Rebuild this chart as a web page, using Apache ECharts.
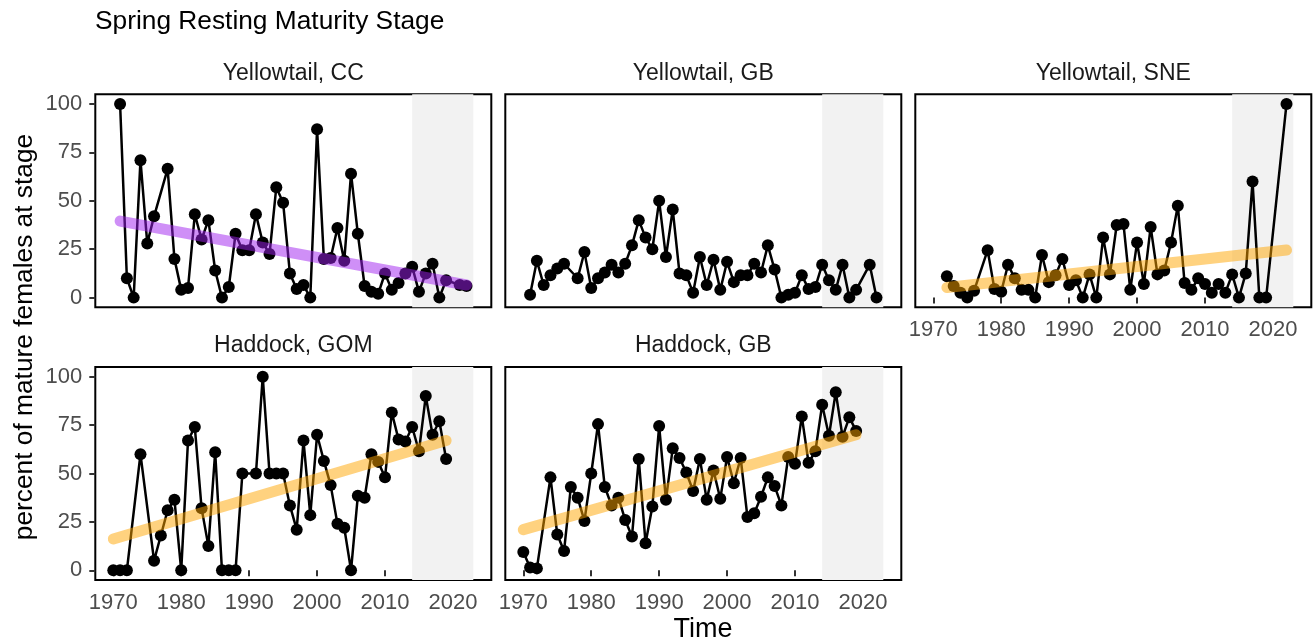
<!DOCTYPE html>
<html>
<head>
<meta charset="utf-8">
<script src="https://cdn.jsdelivr.net/npm/echarts@6/dist/echarts.min.js"></script>
<style>
  html, body { margin: 0; padding: 0; background: #fff; }
  #chart { width: 1313px; height: 643px; }
</style>
</head>
<body>
<div id="chart"></div>
<script>
// ---- data ----
const xTicks = [1970, 1980, 1990, 2000, 2010, 2020];
const yTicks = [0, 25, 50, 75, 100];
const shadeYears = [2014, 2023];

const ccYears = [1971, 1972, 1973, 1974, 1975, 1976, 1978, 1979, 1980, 1981, 1982, 1983, 1984, 1985, 1986, 1987, 1988, 1989, 1990, 1991, 1992, 1993, 1994, 1995, 1996, 1997, 1998, 1999, 2000, 2001, 2002, 2003, 2004, 2005, 2006, 2007, 2008, 2009, 2010, 2011, 2012, 2013, 2014, 2015, 2016, 2017, 2018, 2019, 2021, 2022];
const ccValues = [100, 10, 0, 71, 28, 42, 66.5, 20, 4, 5, 43, 30, 40, 14, 0, 5.5, 33, 24.5, 24.5, 43, 28.5, 22.5, 57, 49, 12.5, 4.5, 6.5, 0, 87, 20, 20.5, 36, 19, 64, 33, 6, 3, 2, 12.5, 4, 7.5, 12.5, 16, 3, 12.5, 17.5, 0, 9, 6.5, 6];
const ccTrend = [[1971, 39.5], [2022, 6.5]];

const gbYears = [1971, 1972, 1973, 1974, 1975, 1976, 1978, 1979, 1980, 1981, 1982, 1983, 1984, 1985, 1986, 1987, 1988, 1989, 1990, 1991, 1992, 1993, 1994, 1995, 1996, 1997, 1998, 1999, 2000, 2001, 2002, 2003, 2004, 2005, 2006, 2007, 2008, 2009, 2010, 2011, 2012, 2013, 2014, 2015, 2016, 2017, 2018, 2019, 2021, 2022];
const gbValues = [1.5, 19, 6.5, 11.5, 15, 17.5, 10, 23.5, 5, 10, 13, 17, 13, 17.5, 27, 40, 31, 25, 50, 21, 45.5, 12.5, 11.5, 2.5, 21, 6.5, 19.5, 4, 18.5, 8, 11.5, 11.5, 17.5, 13, 27, 14.5, 0, 1.5, 2.5, 11.5, 4.5, 5.5, 17, 9, 4, 17, 0, 4, 17, 0];

const sneYears = [1972, 1973, 1974, 1975, 1976, 1978, 1979, 1980, 1981, 1982, 1983, 1984, 1985, 1986, 1987, 1988, 1989, 1990, 1991, 1992, 1993, 1994, 1995, 1996, 1997, 1998, 1999, 2000, 2001, 2002, 2003, 2004, 2005, 2006, 2007, 2008, 2009, 2010, 2011, 2012, 2013, 2014, 2015, 2016, 2017, 2018, 2019, 2022];
const sneValues = [11, 6, 2.5, 0, 3.5, 24.5, 4.5, 3, 17, 10, 4, 4, 0, 22, 8, 11.5, 20, 6.5, 9, 0, 12, 0, 31, 12, 37.5, 38, 4, 28.5, 7, 36.5, 12, 14, 28.5, 47.5, 7.5, 4, 10, 7, 2.5, 7, 2.5, 12, 0, 12.5, 60, 0, 0, 100];
const sneTrend = [[1972, 5.2], [2022, 24.6]];

const gomYears = [1970, 1971, 1972, 1974, 1976, 1977, 1978, 1979, 1980, 1981, 1982, 1983, 1984, 1985, 1986, 1987, 1988, 1989, 1991, 1992, 1993, 1994, 1995, 1996, 1997, 1998, 1999, 2000, 2001, 2002, 2003, 2004, 2005, 2006, 2007, 2008, 2009, 2010, 2011, 2012, 2013, 2014, 2015, 2016, 2017, 2018, 2019];
const gomValues = [0, 0, 0, 60, 5, 18, 31, 36.5, 0, 67, 74, 32, 12.5, 61, 0, 0, 0, 50, 50, 100, 50, 50, 50, 33.5, 21, 67, 28.5, 70, 56.5, 44, 24, 22, 0, 38.5, 37.5, 60, 56, 48, 81.5, 67.5, 66.5, 74, 61.5, 90, 70, 77, 57.5];
const gomTrend = [[1970, 16.2], [2019, 67]];

const hgbYears = [1970, 1971, 1972, 1974, 1975, 1976, 1977, 1978, 1979, 1980, 1981, 1982, 1983, 1984, 1985, 1986, 1987, 1988, 1989, 1990, 1991, 1992, 1993, 1994, 1995, 1996, 1997, 1998, 1999, 2000, 2001, 2002, 2003, 2004, 2005, 2006, 2007, 2008, 2009, 2010, 2011, 2012, 2013, 2014, 2015, 2016, 2017, 2018, 2019];
const hgbValues = [9.5, 1.5, 1, 48, 18.5, 10, 43, 37.5, 25.5, 50, 75.5, 43, 33.5, 37.5, 26, 17.5, 57.5, 14, 33, 74.5, 36.5, 63, 58, 50.5, 41, 57.5, 36.5, 51.5, 37, 58.5, 45, 58, 27.5, 29.5, 38, 48, 43.5, 33.5, 58.5, 55, 79.5, 55.5, 61.5, 85.5, 69.5, 92, 69, 79, 72];
const hgbTrend = [[1970, 21], [2019, 70]];

const FONT = "'Liberation Sans', Arial, Helvetica, sans-serif";
const PURPLE = "#A020F0";
const ORANGE = "#FFA500";

// panel layout: col/row in the facet grid, which axes carry labels
const panels = [
  { name: "Yellowtail, CC",  years: ccYears,  values: ccValues,  trend: ccTrend,  color: PURPLE, col: 0, row: 0, showX: false, showY: true },
  { name: "Yellowtail, GB",  years: gbYears,  values: gbValues,  trend: null,     color: null,   col: 1, row: 0, showX: false, showY: false },
  { name: "Yellowtail, SNE", years: sneYears, values: sneValues, trend: sneTrend, color: ORANGE, col: 2, row: 0, showX: true,  showY: false },
  { name: "Haddock, GOM",    years: gomYears, values: gomValues, trend: gomTrend, color: ORANGE, col: 0, row: 1, showX: true,  showY: true },
  { name: "Haddock, GB",     years: hgbYears, values: hgbValues, trend: hgbTrend, color: ORANGE, col: 1, row: 1, showX: true,  showY: false }
];

const colLeft = [95.3, 505.3, 915.3];
const rowTop = [94.3, 367];
const panelW = 396;
const panelH = 213;

const grids = [], xAxes = [], yAxes = [], series = [], graphics = [];

panels.forEach((p, i) => {
  const left = colLeft[p.col];
  const top = rowTop[p.row];
  grids.push({
    left: left, top: top, width: panelW, height: panelH,
    show: true, borderColor: "#000", borderWidth: 2, backgroundColor: "#fff"
  });
  xAxes.push({
    type: "value", gridIndex: i, min: 1967.35, max: 2025.65,
    axisLine: { show: false },
    splitLine: { show: false },
    axisTick: { show: p.showX, length: 6, lineStyle: { color: "#333", width: 2 }, customValues: xTicks },
    axisLabel: {
      show: p.showX, margin: 12, color: "#4D4D4D", fontSize: 22, fontFamily: FONT,
      customValues: xTicks, formatter: v => String(v)
    }
  });
  yAxes.push({
    type: "value", gridIndex: i, min: -5, max: 105,
    axisLine: { show: false },
    splitLine: { show: false },
    axisTick: { show: p.showY, length: 6, lineStyle: { color: "#333", width: 2 }, customValues: yTicks },
    axisLabel: { show: p.showY, margin: 13, color: "#4D4D4D", fontSize: 22, fontFamily: FONT, customValues: yTicks }
  });

  // shaded recent period
  series.push({
    type: "line", xAxisIndex: i, yAxisIndex: i, data: [], z: 1, silent: true,
    markArea: {
      silent: true,
      itemStyle: { color: "#F2F2F2" },
      data: [[{ xAxis: shadeYears[0] }, { xAxis: shadeYears[1] }]]
    }
  });

  series.push({
    type: "line", xAxisIndex: i, yAxisIndex: i, z: 3,
    data: p.years.map((y, k) => [y, p.values[k]]),
    symbol: "circle", symbolSize: 12, showSymbol: true,
    itemStyle: { color: "#000" },
    lineStyle: { color: "#000", width: 2.5 }
  });

  if (p.trend) {
    series.push({
      type: "line", xAxisIndex: i, yAxisIndex: i, z: 5,
      data: p.trend, showSymbol: false, symbol: "none",
      lineStyle: { color: p.color, width: 11, opacity: 0.5, cap: "round" }
    });
  }

  graphics.push({
    type: "text", x: left + panelW / 2, y: top - 21,
    style: { text: p.name, fill: "#1a1a1a", font: "23px " + FONT, textAlign: "center", textVerticalAlign: "middle" }
  });
});

graphics.push({
  type: "text", x: 95, y: 22,
  style: { text: "Spring Resting Maturity Stage", fill: "#000", font: "26.3px " + FONT, textAlign: "left", textVerticalAlign: "middle" }
});
graphics.push({
  type: "text", x: 703, y: 630,
  style: { text: "Time", fill: "#000", font: "27px " + FONT, textAlign: "center", textVerticalAlign: "middle" }
});
graphics.push({
  type: "text", x: 25, y: 337, rotation: Math.PI / 2,
  style: { text: "percent of mature females at stage", fill: "#000", font: "26.3px " + FONT, textAlign: "center", textVerticalAlign: "middle" }
});

const chart = echarts.init(document.getElementById("chart"), null, { renderer: "canvas" });
chart.setOption({
  animation: false,
  backgroundColor: "#fff",
  grid: grids,
  xAxis: xAxes,
  yAxis: yAxes,
  series: series,
  graphic: graphics
});
</script>
</body>
</html>
